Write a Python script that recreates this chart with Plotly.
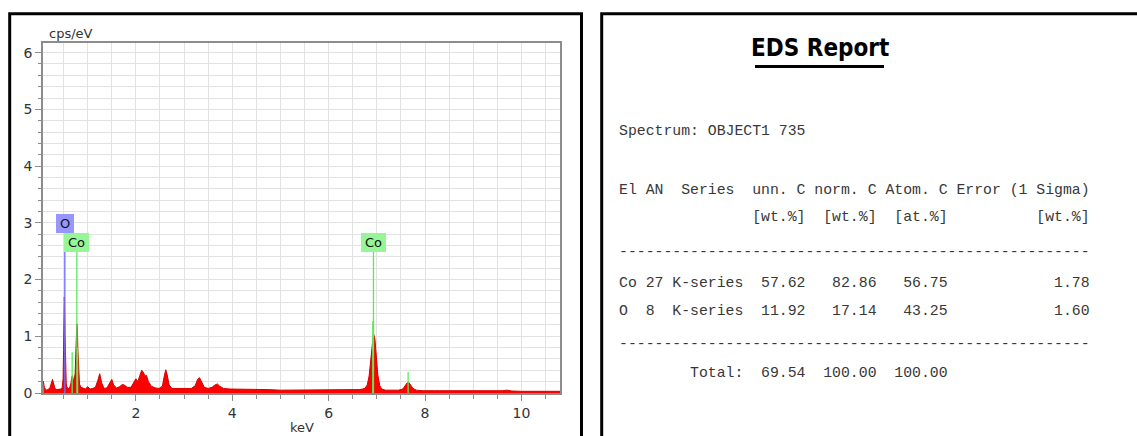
import plotly.graph_objects as go

# ---------------- data ----------------
energy_kev = [
    0.08, 0.10, 0.14, 0.18, 0.22, 0.25, 0.27, 0.29, 0.32, 0.36, 0.40, 0.44, 0.47,
    0.49, 0.50, 0.51, 0.515, 0.52, 0.53, 0.54, 0.555, 0.57, 0.60, 0.63,
    0.655, 0.67, 0.685, 0.70, 0.72, 0.74, 0.755, 0.765, 0.775, 0.785, 0.795, 0.81, 0.83, 0.86, 0.90,
    0.95, 1.00, 1.05, 1.10, 1.16, 1.21, 1.25, 1.29, 1.34, 1.40, 1.46, 1.50, 1.54, 1.60, 1.66,
    1.72, 1.76, 1.82, 1.90, 1.96, 2.00, 2.04, 2.08, 2.12, 2.15, 2.19, 2.22, 2.26, 2.32, 2.40,
    2.48, 2.55, 2.59, 2.62, 2.65, 2.69, 2.75, 2.85, 2.95, 3.05, 3.15, 3.23, 3.28, 3.32, 3.36,
    3.42, 3.50, 3.58, 3.64, 3.69, 3.74, 3.82, 3.95, 4.10, 4.30, 4.50, 4.75, 5.00, 5.30, 5.60,
    5.90, 6.20, 6.45, 6.65, 6.75, 6.80, 6.84, 6.87, 6.90, 6.93, 6.96, 6.99, 7.02, 7.06, 7.10,
    7.18, 7.30, 7.45, 7.54, 7.59, 7.63, 7.66, 7.70, 7.75, 7.82, 7.95, 8.20, 8.50, 8.80, 9.10,
    9.40, 9.60, 9.70, 9.80, 10.00, 10.30, 10.60, 10.80,
]
counts_cps = [
    0.21, 0.10, 0.05, 0.06, 0.10, 0.20, 0.24, 0.18, 0.08, 0.06, 0.06, 0.07, 0.09,
    0.25, 0.75, 1.45, 1.69, 1.60, 1.05, 0.45, 0.16, 0.10, 0.08, 0.10,
    0.18, 0.28, 0.31, 0.24, 0.22, 0.35, 0.70, 1.00, 1.22, 1.15, 0.80, 0.40, 0.16, 0.10, 0.08,
    0.07, 0.11, 0.07, 0.08, 0.10, 0.22, 0.34, 0.18, 0.08, 0.09, 0.18, 0.24, 0.14, 0.09, 0.11,
    0.15, 0.14, 0.10, 0.10, 0.18, 0.25, 0.20, 0.30, 0.40, 0.37, 0.30, 0.31, 0.20, 0.12, 0.09,
    0.08, 0.12, 0.30, 0.41, 0.32, 0.14, 0.08, 0.08, 0.07, 0.07, 0.08, 0.13, 0.24, 0.27, 0.20,
    0.10, 0.08, 0.10, 0.14, 0.16, 0.12, 0.08, 0.07, 0.07, 0.06, 0.06, 0.06, 0.05, 0.05, 0.05,
    0.05, 0.05, 0.05, 0.06, 0.08, 0.14, 0.30, 0.55, 0.88, 1.05, 0.95, 0.62, 0.32, 0.13, 0.07,
    0.05, 0.05, 0.05, 0.07, 0.13, 0.18, 0.19, 0.14, 0.08, 0.05, 0.04, 0.04, 0.04, 0.035, 0.035,
    0.035, 0.04, 0.05, 0.035, 0.03, 0.03, 0.03, 0.03,
]

# element line markers
marker_element = ["O", "Co", "Co", "Co", "Co", "Co", "Co"]
marker_kev = [0.525, 0.776, 0.678, 0.791, 6.930, 6.915, 7.649]
marker_top = [2.82, 2.49, 0.72, 0.80, 2.49, 1.27, 0.37]
marker_labelled = [True, True, False, False, True, False, False]

# report table
spectrum_name = "OBJECT1 735"
el_symbol = ["Co", "O"]
el_an = [27, 8]
el_series = ["K-series", "K-series"]
unn_c = [57.62, 11.92]
norm_c = [82.86, 17.14]
atom_c = [56.75, 43.25]
err_sigma = [1.78, 1.60]
total_unn, total_norm, total_atom = 69.54, 100.00, 100.00

# ---------------- layout helpers ----------------
W, H = 1137, 436
ML, MR, MT, MB = 43, 577, 43, 43
PW = W - ML - MR
PH = H - MT - MB


def px(x):
    return (x - ML) / PW


def py(y):
    return (H - MB - y) / PH


el_colors = {"O": "rgba(110,110,255,0.85)", "Co": "rgb(90,235,90)"}
box_colors = {"O": "rgb(150,150,255)", "Co": "rgb(150,245,150)"}

fig = go.Figure()

fig.add_trace(go.Scatter(
    x=energy_kev, y=counts_cps, mode="lines", fill="tozeroy",
    fillcolor="rgb(255,0,0)", line=dict(color="rgb(215,0,0)", width=1),
    hoverinfo="skip", showlegend=False,
))

for el, e, top in zip(marker_element, marker_kev, marker_top):
    fig.add_trace(go.Scatter(
        x=[e, e], y=[0, top], mode="lines",
        line=dict(color=el_colors[el], width=1.6 if el == "O" else 1.3),
        hoverinfo="skip", showlegend=False,
    ))

annotations = []
for el, e, top, lab in zip(marker_element, marker_kev, marker_top, marker_labelled):
    if not lab:
        continue
    annotations.append(dict(
        x=e, y=top, xref="x", yref="y", text=el, showarrow=False,
        xanchor="center", yanchor="bottom",
        bgcolor=box_colors[el], borderpad=1, borderwidth=0,
        width=16 if el == "O" else 23, height=17,
        font=dict(family="DejaVu Sans", size=13, color="#111"),
    ))

# axis titles
annotations.append(dict(x=px(47), y=py(33), xref="paper", yref="paper", text="cps/eV",
                        showarrow=False, xanchor="left", yanchor="middle",
                        font=dict(family="DejaVu Sans", size=13, color="#333")))
annotations.append(dict(x=px(302), y=py(427), xref="paper", yref="paper", text="keV",
                        showarrow=False, xanchor="center", yanchor="middle",
                        font=dict(family="DejaVu Sans", size=13, color="#333")))

# report title
annotations.append(dict(x=px(819.5), y=py(48), xref="paper", yref="paper", text="<b>EDS Report</b>",
                        showarrow=False, xanchor="center", yanchor="middle",
                        font=dict(family="Liberation Sans Narrow, Arial Narrow, DejaVu Sans Condensed, Liberation Sans",
                                  size=24, color="#000")))

NB = "\u00a0"
rows = []
rows.append(("Spectrum: " + spectrum_name, 131))
rows.append(("El AN  Series  unn. C norm. C Atom. C Error (1 Sigma)", 190))
rows.append(("{:15s}{:>6s}  {:>6s}  {:>6s}{:>16s}".format("", "[wt.%]", "[wt.%]", "[at.%]", "[wt.%]"), 217))
rows.append(("-" * 53, 252))
row_y = [283, 311]
for i in range(len(el_symbol)):
    line = "{:<2s} {:<2d} {:<8s}  {:>5.2f}   {:>5.2f}   {:>5.2f}{:>16.2f}".format(
        el_symbol[i], el_an[i], el_series[i], unn_c[i], norm_c[i], atom_c[i], err_sigma[i])
    rows.append((line, row_y[i]))
rows.append(("-" * 53, 344))
rows.append(("{:>14s}  {:>5.2f}  {:>6.2f}  {:>6.2f}".format("Total:", total_unn, total_norm, total_atom), 373))

for txt, yy in rows:
    annotations.append(dict(x=px(616.5), y=py(yy), xref="paper", yref="paper",
                            text=txt.replace(" ", NB), showarrow=False,
                            xanchor="left", yanchor="middle",
                            font=dict(family="Liberation Mono, Courier New, monospace",
                                      size=14.8, color="#383838")))

shapes = [
    dict(type="rect", xref="paper", yref="paper", x0=px(9.7), x1=px(581.5), y0=py(470), y1=py(13.7),
         line=dict(color="black", width=3), fillcolor="rgba(0,0,0,0)", layer="above"),
    dict(type="rect", xref="paper", yref="paper", x0=px(601.7), x1=px(1160), y0=py(470), y1=py(13.7),
         line=dict(color="black", width=3), fillcolor="rgba(0,0,0,0)", layer="above"),
    dict(type="line", xref="paper", yref="paper", x0=px(755), x1=px(884), y0=py(66.5), y1=py(66.5),
         line=dict(color="black", width=3)),
]

grid_col = "rgb(226,226,226)"
axis_col = "rgb(140,140,140)"
fig.update_layout(
    width=W, height=H,
    margin=dict(l=ML, r=MR, t=MT, b=MB, pad=0),
    paper_bgcolor="white", plot_bgcolor="white",
    showlegend=False,
    annotations=annotations, shapes=shapes,
    xaxis=dict(range=[0.073, 10.80], tick0=0, dtick=2, showgrid=True, gridcolor=grid_col, gridwidth=1,
               ticks="outside", ticklen=6, tickcolor=axis_col, tickwidth=1,
               showline=True, linecolor=axis_col, linewidth=1.5, mirror=True, zeroline=False,
               tickfont=dict(family="DejaVu Sans", size=14, color="#333"),
               minor=dict(dtick=0.5, tick0=0, showgrid=True, gridcolor=grid_col, ticks="outside",
                          ticklen=4, tickcolor=axis_col)),
    yaxis=dict(range=[0, 6.17], tick0=0, dtick=1, showgrid=True, gridcolor=grid_col, gridwidth=1,
               ticks="outside", ticklen=6, tickcolor=axis_col, tickwidth=1,
               showline=True, linecolor=axis_col, linewidth=1.5, mirror=True, zeroline=False,
               tickfont=dict(family="DejaVu Sans", size=14, color="#333"),
               minor=dict(dtick=0.2, tick0=0, showgrid=True, gridcolor=grid_col, ticks="outside",
                          ticklen=3, tickcolor=axis_col)),
)

fig.write_html("out.html", config={"displayModeBar": False},
               post_script="document.body.style.margin='0';")
